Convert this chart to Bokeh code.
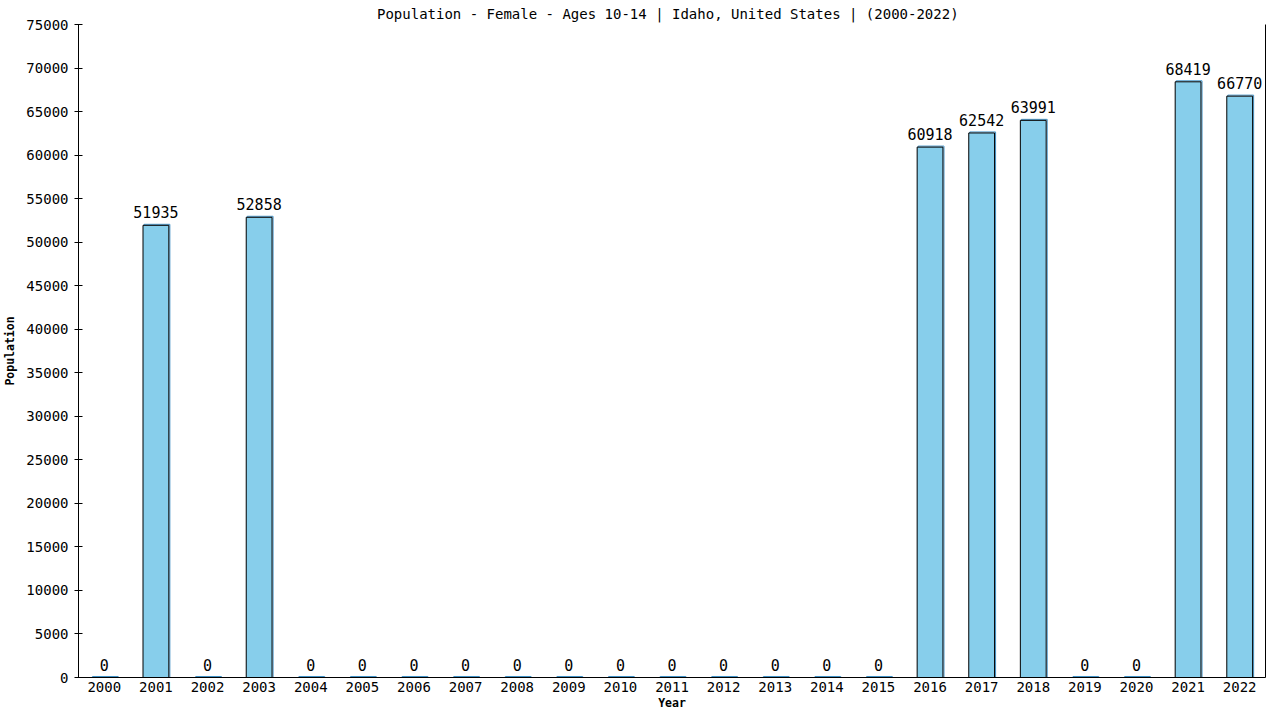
from bokeh.plotting import figure
from bokeh.models import ColumnDataSource, LinearAxis, FixedTicker, Range1d, FactorRange
from bokeh.transform import dodge
from bokeh.core.properties import value
from bokeh.embed import file_html
from bokeh.resources import INLINE

years = [str(y) for y in range(2000, 2023)]
population = [0, 51935, 0, 52858, 0, 0, 0, 0, 0, 0, 0, 0, 0, 0, 0, 0,
              60918, 62542, 63991, 0, 0, 68419, 66770]
y_ticks = list(range(0, 75001, 5000))

FONT = "DejaVu Sans Mono"

src = ColumnDataSource(dict(
    year=years,
    pop=population,
    shadow=[v + 115 for v in population],
    label=[str(v) for v in population],
))

p = figure(width=1272, height=712, x_range=FactorRange(*years),
           y_range=Range1d(0, 75000), output_backend="svg",
           toolbar_location=None, min_border_left=76, min_border_right=7,
           min_border_top=24, min_border_bottom=34,
           title="Population - Female - Ages 10-14 | Idaho, United States |  (2000-2022)")
p.title.align = "center"
p.title.text_font = FONT
p.title.text_font_size = "14px"
p.title.text_font_style = "normal"
p.title.text_color = "black"
p.title.standoff = 6
p.outline_line_color = None
p.xgrid.visible = False
p.ygrid.visible = False

# shadow
p.vbar(x=dodge("year", 0.02, range=p.x_range), top="shadow", width=0.5,
       source=src, fill_color=None, line_color="#3d8fc4", line_width=1)
p.vbar(x="year", top="pop", width=0.5, source=src, fill_color="#87CEEB",
       line_color="black", line_width=1)
p.text(x="year", y="pop", text="label", source=src, text_align="center",
       text_baseline="bottom", y_offset=-7, text_font=value(FONT),
       text_font_size="15px", text_color="black")

ya = p.yaxis[0]
ya.ticker = FixedTicker(ticks=y_ticks)
ya.axis_label = "Population"
ya.axis_label_text_font = FONT
ya.axis_label_text_font_size = "11.5px"
ya.axis_label_text_font_style = "bold"
ya.axis_label_text_color = "black"
ya.axis_label_standoff = 6
ya.major_label_text_font = FONT
ya.major_label_text_font_size = "14px"
ya.major_label_text_color = "black"
ya.major_label_standoff = 6
ya.major_tick_in = 4
ya.major_tick_out = 4
ya.minor_tick_line_color = None
ya.axis_line_color = "black"

xa = p.xaxis[0]
xa.axis_label = "Year"
xa.axis_label_text_font = FONT
xa.axis_label_text_font_size = "11.5px"
xa.axis_label_text_font_style = "bold"
xa.axis_label_text_color = "black"
xa.axis_label_standoff = 1
xa.major_label_text_font = FONT
xa.major_label_text_font_size = "14px"
xa.major_label_text_color = "black"
xa.major_tick_line_color = None
xa.minor_tick_line_color = None
xa.major_tick_out = 0
xa.major_tick_in = 0
xa.major_label_standoff = 4
xa.axis_line_color = "black"

ra = LinearAxis(ticker=FixedTicker(ticks=[]), major_tick_line_color=None,
                minor_tick_line_color=None, axis_line_color="black")
p.add_layout(ra, "right")

open("out.html", "w").write(file_html(p, INLINE))
